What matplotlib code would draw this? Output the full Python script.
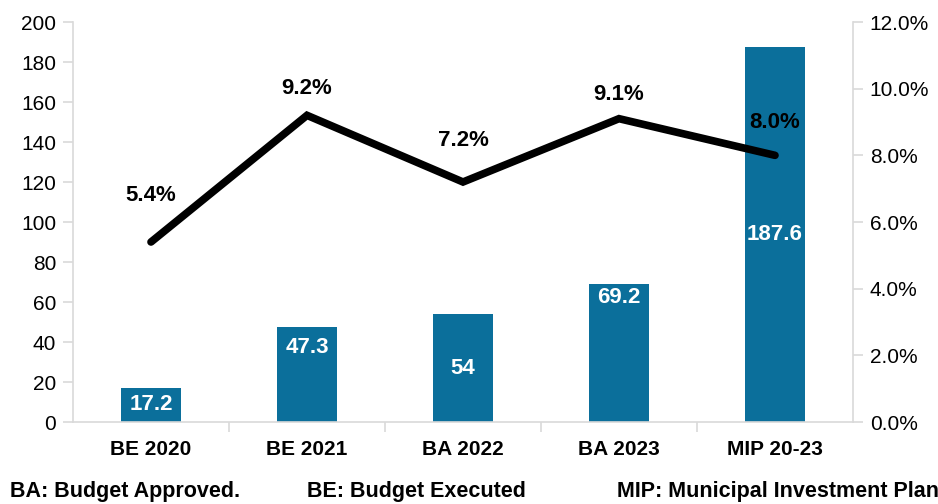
import matplotlib.pyplot as plt
from matplotlib.ticker import FuncFormatter

plt.rcParams['font.family'] = ['Liberation Sans', 'DejaVu Sans']

categories = ['BE 2020', 'BE 2021', 'BA 2022', 'BA 2023', 'MIP 20-23']
investment = [17.2, 47.3, 54, 69.2, 187.6]
share_pct = [5.4, 9.2, 7.2, 9.1, 8.0]
notes = ['BA: Budget Approved.', 'BE: Budget Executed', 'MIP: Municipal Investment Plan']

# where inside each bar its value label sits (fraction of bar height)
label_frac = [0.5, 0.79, 0.5, 0.9, 0.5]
# vertical offset of the percentage labels above the line, in pixels
pct_offset = [47, 27, 42, 24, 33]

bar_color = '#0b6f9b'
axis_gray = '#d9d9d9'

fig = plt.figure(figsize=(9.38, 5.04), dpi=100)
ax = fig.add_axes([73 / 938, 1 - 422 / 504, 780 / 938, 400 / 504])
ax2 = ax.twinx()

x = list(range(len(categories)))
ax.bar(x, investment, width=0.39, color=bar_color, zorder=2)
for i, v in enumerate(investment):
    ax.text(i, v * label_frac[i], f'{v:g}', ha='center', va='center',
            color='white', fontsize=16, fontweight='bold', zorder=3)

ax2.plot(x, [p / 100 for p in share_pct], color='black', lw=5.5,
         solid_joinstyle='miter', solid_capstyle='round', zorder=4)
for i, p in enumerate(share_pct):
    ax2.annotate(f'{p:.1f}%', (i, p / 100), xytext=(0, pct_offset[i] * 0.72),
                 textcoords='offset points', ha='center', va='center',
                 fontsize=16, fontweight='bold')

ax.set_xlim(-0.5, len(categories) - 0.5)
ax.set_ylim(0, 200)
ax.set_yticks(range(0, 201, 20))
ax2.set_ylim(0, 0.12)
ax2.set_yticks([i * 0.02 for i in range(7)])
ax2.yaxis.set_major_formatter(FuncFormatter(lambda v, _: f'{v * 100:.1f}%'))

ax.set_xticks(x)
ax.set_xticklabels(categories, fontsize=15, fontweight='bold')
ax.set_xticks([i + 0.5 for i in x[:-1]], minor=True)
ax.tick_params(axis='x', which='major', length=0, pad=13)
ax.tick_params(axis='x', which='minor', length=7, color=axis_gray, width=1.2)
ax.tick_params(axis='y', labelsize=15, length=7, color=axis_gray, width=1.2, pad=5)
ax2.tick_params(axis='y', labelsize=15, length=7, color=axis_gray, width=1.2, pad=5)

for a in (ax, ax2):
    a.spines['top'].set_visible(False)
    for side in ('left', 'right', 'bottom'):
        a.spines[side].set_color(axis_gray)
        a.spines[side].set_linewidth(1.2)
ax.spines['right'].set_visible(False)
ax2.spines['left'].set_visible(False)
ax2.spines['bottom'].set_visible(False)

note_x = [10, 307, 617]
for nx, txt in zip(note_x, notes):
    fig.text(nx / 938, 1 - 492 / 504, txt, fontsize=15.5, fontweight='bold',
             ha='left', va='center')

fig.savefig('out.png', dpi=100, facecolor='white')
